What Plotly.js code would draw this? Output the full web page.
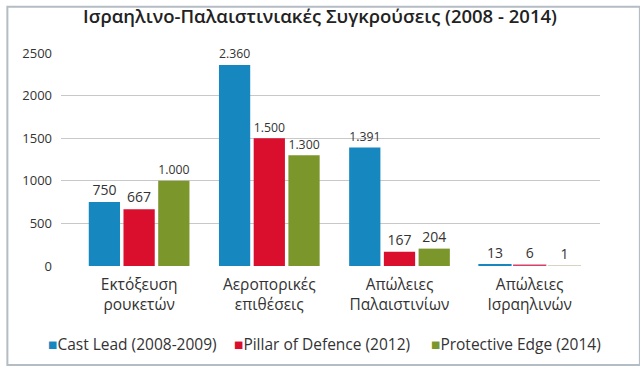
<!DOCTYPE html>
<html>
<head>
<meta charset="utf-8">
<script src="https://cdn.plot.ly/plotly-3.0.1.min.js"></script>
<style>html,body{margin:0;padding:0;background:#fff;}#chart{width:640px;height:369px;}</style>
</head>
<body>
<div id="chart"></div>
<script>
const categories = ["Εκτόξευση<br>ρουκετών", "Αεροπορικές<br>επιθέσεις", "Απώλειες<br>Παλαιστινίων", "Απώλειες<br>Ισραηλινών"];
const seriesNames = ["Cast Lead (2008-2009)", "Pillar of Defence (2012)", "Protective Edge (2014)"];
const castLead = [750, 2360, 1391, 13];
const pillarOfDefence = [667, 1500, 167, 6];
const protectiveEdge = [1000, 1300, 204, 1];
const yTicks = [0, 500, 1000, 1500, 2000, 2500];
const colors = ["#1787bf", "#da0f2e", "#7b962b"];
const smallBarColors = ["#1787bf", "#d8406a", "#d8d4c4"];

const fmt = v => v.toLocaleString('de-DE');
const FONT = "Open Sans, sans-serif";
const series = [castLead, pillarOfDefence, protectiveEdge];
const traces = series.map((vals, i) => ({
  type: 'bar',
  name: seriesNames[i],
  x: categories,
  y: vals,
  text: vals.map(fmt),
  textposition: 'outside',
  cliponaxis: false,
  textfont: {family: FONT, size: 14, color: '#333'},
  marker: {color: vals.map((v, j) => j === 3 ? smallBarColors[i] : colors[i]),
           line: {color: vals.map((v, j) => j === 3 ? smallBarColors[i] : colors[i]),
                  width: vals.map((v, j) => j === 3 ? 2 : 0)}},
  hoverinfo: 'none'
}));

const legendAnn = seriesNames.map((n, i) => ({
  xref: 'paper', yref: 'paper', xanchor: 'left', yanchor: 'middle',
  x: [-0.028, 0.318, 0.683][i], y: -0.365,
  showarrow: false,
  text: "<span style='color:" + colors[i] + "'>■</span>" + n,
  font: {family: FONT, size: 15.5, color: '#333'}
}));

const layout = {
  width: 640, height: 369,
  margin: {l: 61, r: 40, t: 53, b: 103},
  paper_bgcolor: '#fff', plot_bgcolor: '#fff',
  title: {text: "Ισραηλινο-Παλαιστινιακές Συγκρούσεις (2008 - 2014)", x: 0.5, xanchor: 'center', y: 0.955, yanchor: 'middle',
          font: {family: FONT, size: 18.5, weight: 600, color: '#222'}},
  showlegend: false,
  barmode: 'group', bargap: 0.2, bargroupgap: 0.1,
  xaxis: {type: 'category', range: [-0.6, 3.54], showgrid: false, showline: false, ticks: '', zeroline: false,
          ticklabelstandoff: 7,
          tickfont: {family: FONT, size: 15.5, color: '#333'}, fixedrange: true},
  yaxis: {range: [0, 2500], tickvals: yTicks, ticktext: yTicks.map(String), showgrid: true, gridcolor: '#c8c8c8', gridwidth: 1,
          zeroline: true, zerolinecolor: 'rgba(0,0,0,0)', showline: false, ticks: '', ticklabelstandoff: 8,
          tickfont: {family: FONT, size: 13, color: '#333'}, fixedrange: true},
  annotations: legendAnn,
  shapes: [{type: 'rect', xref: 'paper', yref: 'paper', x0: -0.0995, x1: 1.074, y0: -0.465, y1: 1.217,
            line: {color: '#b4bcc4', width: 2}, fillcolor: 'rgba(0,0,0,0)', layer: 'below'}]
};

Plotly.newPlot('chart', traces, layout, {displayModeBar: false, staticPlot: true});
</script>
</body>
</html>
